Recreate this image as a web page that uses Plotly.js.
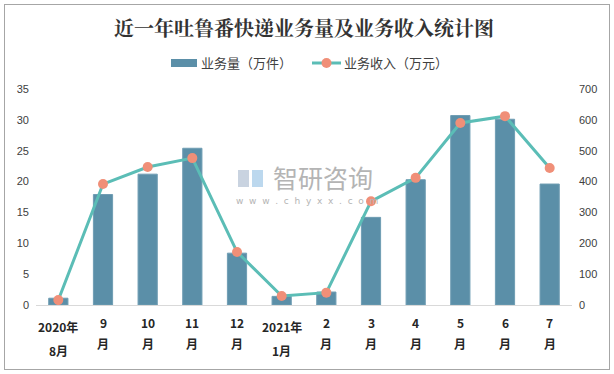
<!DOCTYPE html>
<html>
<head>
<meta charset="utf-8">
<script src="https://cdn.plot.ly/plotly-3.0.1.min.js"></script>
<style>
html,body{margin:0;padding:0;background:#fff;}
#wrap{position:relative;width:614px;height:374px;}
#chart{width:614px;height:374px;}
#frame{position:absolute;left:4px;top:4px;width:604px;height:364px;border:1px solid #a6a6a6;pointer-events:none;}
</style>
</head>
<body>
<div id="wrap"><div id="chart"></div><div id="frame"></div></div>
<script>
// Categories (months)
const categories = ["2020-08","2020-09","2020-10","2020-11","2020-12","2021-01","2021-02","2021-03","2021-04","2021-05","2021-06","2021-07"];
const labelLine1 = ["2020年","9","10","11","12","2021年","2","3","4","5","6","7"];
const labelLine2 = ["8月","月","月","月","月","1月","月","月","月","月","月","月"];
// Series
const seriesNames = ["业务量（万件）", "业务收入（万元）"];
const volume = [1.1, 17.9, 21.2, 25.4, 8.4, 1.4, 2.1, 14.2, 20.3, 30.7, 30.1, 19.6];   // 业务量（万件）
const revenue = [16, 392, 447, 476, 172, 29, 40, 336, 412, 590, 612, 444];          // 业务收入（万元）
const leftTicks = [0,5,10,15,20,25,30,35];
const rightTicks = [0,100,200,300,400,500,600,700];

const font = "'Noto Sans CJK SC', 'Noto Sans', sans-serif";
const BAR = "#5b8fa8", LINE = "#5bbdb6", MARK = "#f08f78";

// plot area in pixels
const PL = 36, PR = 572, PT = 89, PB = 305;
const px = x => (x - PL) / (PR - PL);
const py = y => (PB - y) / (PB - PT);

const traces = [
  {
    type: "bar", name: seriesNames[0], x: categories, y: volume,
    marker: {color: BAR, line: {color: "#6f9db3", width: 1}},
    width: 0.43, yaxis: "y", showlegend: false
  },
  {
    type: "scatter", mode: "lines+markers", name: seriesNames[1], x: categories, y: revenue,
    line: {color: LINE, width: 3},
    marker: {color: MARK, size: 10},
    yaxis: "y2", showlegend: false
  }
];

const annotations = [];
categories.forEach((c, i) => {
  const two = labelLine2[i].length > 1;
  annotations.push({x: c, y: two ? 326 : 322, text: "<b>" + labelLine1[i] + "</b>"});
  annotations.push({x: c, y: two ? 350 : 343, text: "<b>" + labelLine2[i] + "</b>"});
});
annotations.forEach(a => {
  a.xref = "x"; a.y = py(a.y); a.yref = "paper"; a.showarrow = false;
  a.font = {family: font, size: 12, color: "#262626"};
  a.yanchor = "middle"; a.xanchor = "center";
});
// legend texts
annotations.push({x: px(199), xref: "paper", y: py(63), yref: "paper", text: seriesNames[0], showarrow: false,
  xanchor: "left", yanchor: "middle", font: {family: font, size: 13, color: "#404040"}});
annotations.push({x: px(342), xref: "paper", y: py(63), yref: "paper", text: seriesNames[1], showarrow: false,
  xanchor: "left", yanchor: "middle", font: {family: font, size: 13, color: "#404040"}});
// watermark
annotations.push({x: px(323), xref: "paper", y: py(177), yref: "paper", text: "智研咨询", showarrow: false,
  font: {family: font, size: 25, color: "#b4b4b4"}, xanchor: "center", yanchor: "middle"});
annotations.push({x: px(307), xref: "paper", y: py(201), yref: "paper", text: "w  w  w  .  c  h  y  x  x  .  c  o  m", showarrow: false,
  font: {family: "'DejaVu Sans', sans-serif", size: 9, color: "#b4b4b4"}, xanchor: "center", yanchor: "middle"});

const shapes = [
  // legend bar swatch
  {type: "rect", xref: "paper", yref: "paper", x0: px(171), x1: px(197), y0: py(67), y1: py(59),
   fillcolor: BAR, line: {width: 0}},
  // legend line swatch
  {type: "line", xref: "paper", yref: "paper", x0: px(312), x1: px(341), y0: py(63), y1: py(63),
   line: {color: LINE, width: 3}},
  {type: "circle", xref: "paper", yref: "paper", x0: px(321.5), x1: px(331.5), y0: py(68), y1: py(58),
   fillcolor: MARK, line: {width: 0}},
  // watermark logo (light)
  {type: "rect", xref: "paper", yref: "paper", x0: px(238), x1: px(249), y0: py(187), y1: py(170),
   fillcolor: "#c9d3e0", line: {width: 0}, layer: "below"},
  {type: "rect", xref: "paper", yref: "paper", x0: px(252), x1: px(263), y0: py(187), y1: py(170),
   fillcolor: "#bcd8ee", line: {width: 0}, layer: "below"}
];

const layout = {
  width: 614, height: 374,
  margin: {l: PL, r: 614 - PR, t: PT, b: 374 - PB},
  paper_bgcolor: "#ffffff", plot_bgcolor: "rgba(0,0,0,0)",
  title: {text: "<b>近一年吐鲁番快递业务量及业务收入统计图</b>", x: 0.5, xref: "paper", y: 1 - 29/374, yanchor: "middle",
          font: {family: "'Noto Serif CJK SC', 'Noto Sans CJK SC', serif", size: 20, color: "#333333"}},
  showlegend: false,
  bargap: 0.57,
  xaxis: {type: "category", showticklabels: false, ticks: "", showgrid: false, zeroline: false,
          showline: true, linecolor: "#d9d9d9", linewidth: 1, range: [-0.5, 11.5], fixedrange: true},
  yaxis: {range: [0, 35], tickvals: leftTicks, showgrid: false, zeroline: false, showline: false,
          tickfont: {family: "'Liberation Sans', sans-serif", size: 11, color: "#404040"}, ticks: "", ticklabelstandoff: 6},
  yaxis2: {range: [0, 700], tickvals: rightTicks, overlaying: "y", side: "right", showgrid: false, zeroline: false, showline: false,
           tickfont: {family: "'Liberation Sans', sans-serif", size: 11, color: "#404040"}, ticks: "", ticklabelstandoff: 6},
  annotations: annotations,
  shapes: shapes
};

Plotly.newPlot("chart", traces, layout, {staticPlot: true, displayModeBar: false});
</script>
</body>
</html>
